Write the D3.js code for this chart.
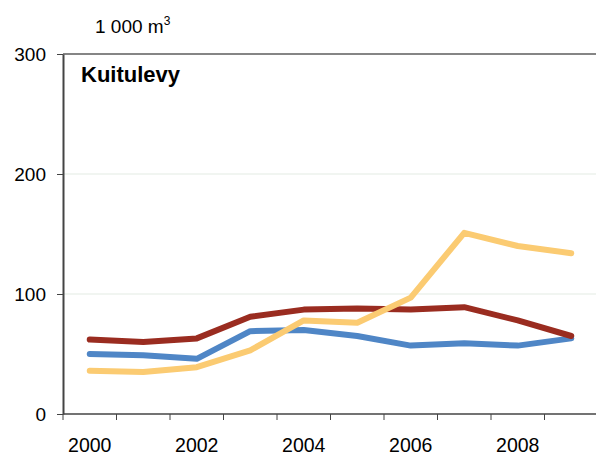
<!DOCTYPE html>
<html>
<head>
<meta charset="utf-8">
<script src="https://cdn.jsdelivr.net/npm/d3@7"></script>
<style>
  body { margin: 0; background: #fff; }
  text { font-family: "Liberation Sans", Arial, sans-serif; }
</style>
</head>
<body>
<script>
// Years on the x axis
const years = [2000, 2001, 2002, 2003, 2004, 2005, 2006, 2007, 2008, 2009];

// Series values, 1 000 m3
const redSeries = [62, 60, 63, 81, 87, 88, 87, 89, 78, 65];
const blueSeries = [50, 49, 46, 69, 70, 65, 57, 59, 57, 63];
const yellowSeries = [36, 35, 39, 53, 78, 76, 97, 151, 140, 134];

// Tick labels
const yTicks = [0, 100, 200, 300];
const xLabels = [2000, 2002, 2004, 2006, 2008];

const w = 596;
const h = 455;

const svg = d3.select("body")
  .append("svg")
  .attr("width", w)
  .attr("height", h);

// scales
const x = d3.scaleBand().domain(years).range([63, 598]);
const y = d3.scaleLinear().domain([0, 300]).range([414, 54]);

// gridlines
svg.append("g")
  .selectAll("line")
  .data([100, 200])
  .enter().append("line")
  .attr("x1", 63).attr("x2", w)
  .attr("y1", d => y(d)).attr("y2", d => y(d))
  .style("stroke", "#e3ebe3")
  .style("stroke-width", 1);

// top frame line
svg.append("line")
  .attr("x1", 63).attr("x2", w)
  .attr("y1", y(300)).attr("y2", y(300))
  .style("stroke", "#858585")
  .style("stroke-width", 2);

// y axis
const yAxis = svg.append("g")
  .attr("transform", "translate(63,0)")
  .call(d3.axisLeft(y).tickValues(yTicks).tickSize(6).tickPadding(11).tickSizeOuter(0));
yAxis.select(".domain").style("stroke", "#444").style("stroke-width", 2);
yAxis.selectAll(".tick line").style("stroke", "#444");
yAxis.selectAll("text")
  .style("font-size", "19px")
  .style("fill", "#000");

// x axis
const xAxis = svg.append("g")
  .attr("transform", "translate(0," + y(0) + ")");
xAxis.append("line")
  .attr("x1", 63).attr("x2", w)
  .attr("y1", 0).attr("y2", 0)
  .style("stroke", "#444")
  .style("stroke-width", 1.5);
xAxis.selectAll(".xtick")
  .data(years)
  .enter().append("line")
  .attr("class", "xtick")
  .attr("x1", d => x(d)).attr("x2", d => x(d))
  .attr("y1", 0).attr("y2", 6)
  .style("stroke", "#444");
xAxis.selectAll(".xlabel")
  .data(xLabels)
  .enter().append("text")
  .attr("class", "xlabel")
  .attr("x", d => x(d) + x.bandwidth() / 2)
  .attr("y", 37.5)
  .attr("text-anchor", "middle")
  .style("font-size", "19.5px")
  .text(d => d);

// lines
const line = d3.line()
  .x((d, i) => x(years[i]) + x.bandwidth() / 2)
  .y(d => y(d));

const series = [
  { values: blueSeries, color: "#4f86c6" },
  { values: redSeries, color: "#9a2c20" },
  { values: yellowSeries, color: "#fbcb72" }
];

svg.selectAll(".series")
  .data(series)
  .enter().append("path")
  .attr("class", "series")
  .attr("d", d => line(d.values))
  .style("fill", "none")
  .style("stroke", d => d.color)
  .style("stroke-width", 6)
  .style("stroke-linejoin", "round")
  .style("stroke-linecap", "round");

// unit label
const unit = svg.append("text")
  .attr("x", 95)
  .attr("y", 33)
  .style("font-size", "19px")
  .text("1 000 m");
unit.append("tspan")
  .attr("dy", -8)
  .style("font-size", "12px")
  .text("3");

// title
svg.append("text")
  .attr("x", 81)
  .attr("y", 82)
  .style("font-size", "22px")
  .style("font-weight", "bold")
  .text("Kuitulevy");
</script>
</body>
</html>
